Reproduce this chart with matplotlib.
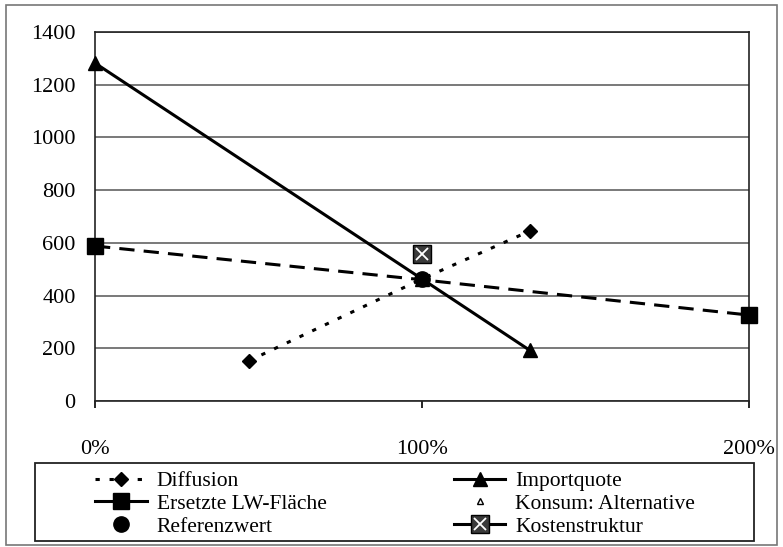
import matplotlib
matplotlib.use('Agg')
import matplotlib.pyplot as plt
from matplotlib.lines import Line2D
from matplotlib.patches import Rectangle

plt.rcParams['font.family'] = ['Liberation Serif', 'DejaVu Serif']

# Werte (x in %, y)
diff_x = [47, 100, 133]
diff_y = [152, 463, 645]
imp_x = [0, 100, 133]
imp_y = [1282, 463, 192]
lw_x = [0, 100, 200]
lw_y = [588, 460, 326]
konsum_x = [100]
konsum_y = [463]
ref_x = [100]
ref_y = [463]
kost_x = [100]
kost_y = [558]

x_ticks = [0, 100, 200]
x_labels = ['0%', '100%', '200%']
y_ticks = [0, 200, 400, 600, 800, 1000, 1200, 1400]

fig = plt.figure(figsize=(7.83, 5.47), dpi=100)
ax = fig.add_axes([95 / 783, 1 - 401 / 547, (749 - 95) / 783, (401 - 32) / 547])

lw = 2.2
ax.plot(diff_x, diff_y, color='black', lw=lw, linestyle=(0, (1.4, 3.2)),
        marker='D', markersize=7, zorder=3, clip_on=False)
ax.plot(lw_x, lw_y, color='black', lw=lw, linestyle=(0, (5, 3)),
        marker='s', markersize=11.5, markevery=[0, 2], zorder=3, clip_on=False)
ax.plot(imp_x, imp_y, color='black', lw=lw, marker='^', markersize=9.5,
        zorder=4, clip_on=False)
ax.plot(konsum_x, konsum_y, linestyle='none', marker='^', markersize=5,
        markerfacecolor='white', markeredgecolor='black', zorder=4)
ax.plot(ref_x, ref_y, linestyle='none', marker='o', markersize=11,
        color='black', zorder=5)
ax.plot(kost_x, kost_y, linestyle='none', marker='s', markersize=12.5,
        markerfacecolor='#3a3a3a', markeredgecolor='black', zorder=5)
ax.plot(kost_x, kost_y, linestyle='none', marker='x', markersize=9,
        markeredgecolor='white', markeredgewidth=1.3, zorder=6)

ax.set_xlim(0, 200)
ax.set_ylim(0, 1400)
ax.set_xticks(x_ticks)
ax.set_xticklabels(x_labels)
ax.set_yticks(y_ticks)
ax.yaxis.grid(True, color='#555555', lw=1.1)
ax.set_axisbelow(True)
for s in ax.spines.values():
    s.set_linewidth(1.2)
    s.set_color('#222222')
ax.tick_params(axis='x', length=5, width=1.2, pad=23, labelsize=16)
ax.tick_params(axis='y', length=0, pad=14, labelsize=16)

# Legende
h_diff = Line2D([], [], color='black', lw=lw, linestyle=(0, (1.4, 3.2)),
                marker='D', markersize=7)
h_lw = Line2D([], [], color='black', lw=lw, marker='s', markersize=11.5)
h_ref = Line2D([], [], linestyle='none', color='black', marker='o', markersize=11)
h_imp = Line2D([], [], color='black', lw=lw, marker='^', markersize=9.5)
h_kon = Line2D([], [], linestyle='none', marker='^', markersize=5,
               markerfacecolor='white', markeredgecolor='black')
h_kost1 = Line2D([], [], color='black', lw=lw, marker='s', markersize=12.5,
                 markerfacecolor='#3a3a3a', markeredgecolor='black')
h_kost2 = Line2D([], [], linestyle='none', marker='x', markersize=9,
                 markeredgecolor='white', markeredgewidth=1.3)

handles = [h_diff, h_lw, h_ref, h_imp, h_kon, (h_kost1, h_kost2)]
labels = ['Diffusion', 'Ersetzte LW-Fläche', 'Referenzwert',
          'Importquote', 'Konsum: Alternative', 'Kostenstruktur']
fig.legend(handles, labels, ncol=2, loc='upper left',
           bbox_to_anchor=(95 / 783, 1 - 471 / 547), frameon=False,
           borderpad=0, borderaxespad=0, fontsize=15.5, labelspacing=0.13,
           handlelength=2.4, handletextpad=0.47, columnspacing=5.9)

fig.patches.append(Rectangle((35 / 783, 1 - 541 / 547), (754 - 35) / 783, (541 - 463) / 547,
                             transform=fig.transFigure, fill=False,
                             edgecolor='#222222', lw=1.3))
fig.patches.append(Rectangle((6 / 783, 1 - 545 / 547), (777 - 6) / 783, (545 - 5) / 547,
                             transform=fig.transFigure, fill=False,
                             edgecolor='#777777', lw=1.2))

fig.savefig('out.png', dpi=100)
